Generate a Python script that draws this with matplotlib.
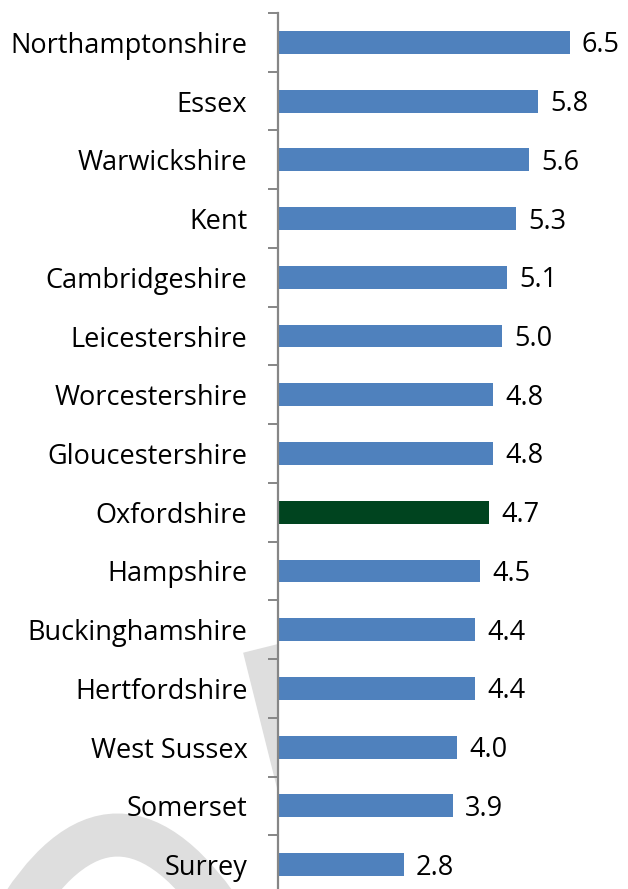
import matplotlib
matplotlib.use("Agg")
import matplotlib.pyplot as plt
from matplotlib.lines import Line2D
from matplotlib.path import Path
from matplotlib.patches import PathPatch
import numpy as np

counties = [
    "Northamptonshire", "Essex", "Warwickshire", "Kent", "Cambridgeshire",
    "Leicestershire", "Worcestershire", "Gloucestershire", "Oxfordshire",
    "Hampshire", "Buckinghamshire", "Hertfordshire", "West Sussex",
    "Somerset", "Surrey",
]
values = [6.5, 5.8, 5.6, 5.3, 5.1, 5.0, 4.8, 4.8, 4.7, 4.5, 4.4, 4.4, 4.0, 3.9, 2.8]
highlight = "Oxfordshire"

blue = "#4f81bd"
green = "#00441f"
grey = "#868686"

plt.rcParams["font.family"] = ["Open Sans", "DejaVu Sans"]

W, H = 628, 889
fig = plt.figure(figsize=(W / 100, H / 100), dpi=100)
ax = fig.add_axes([278 / W, 1 - 894 / H, 1 - 278 / W, (894 - 13) / H])
ax.set_facecolor("white")


def px(x, y):
    return x / W, 1 - y / H


# faint "draft" watermark strokes behind the chart
arc = Path([px(10, 925), px(115, 745), px(230, 925)],
           [Path.MOVETO, Path.CURVE3, Path.CURVE3])
fig.add_artist(PathPatch(arc, transform=fig.transFigure, fill=False,
                         edgecolor="#dedede", lw=31, zorder=-5))
xs, ys = zip(px(262, 648), px(300, 800))
fig.add_artist(Line2D(xs, ys, transform=fig.transFigure, color="#dedede",
                      lw=28, solid_capstyle="butt", zorder=-5))

y = np.arange(len(counties))
colors = [green if c == highlight else blue for c in counties]
ax.barh(y, values, height=0.39, color=colors, zorder=2)

for yi, v in zip(y, values):
    ax.text(v + 0.27, yi + 0.05, f"{v:.1f}", va="center", ha="left", fontsize=19.5)

ax.set_ylim(len(counties) - 0.5, -0.5)
ax.set_xlim(0, 7.8)
ax.set_yticks(y)
ax.set_yticklabels(counties, fontsize=19.5)
ax.set_yticks(np.arange(len(counties) + 1) - 0.5, minor=True)
ax.tick_params(axis="y", which="major", length=0, pad=22)
ax.tick_params(axis="y", which="minor", length=7.5, width=1.4, color=grey)
ax.set_xticks([])
for s in ("top", "right", "bottom"):
    ax.spines[s].set_visible(False)
ax.spines["left"].set_color(grey)
ax.spines["left"].set_linewidth(1.6)

fig.savefig("out.png", dpi=100, facecolor="white")
